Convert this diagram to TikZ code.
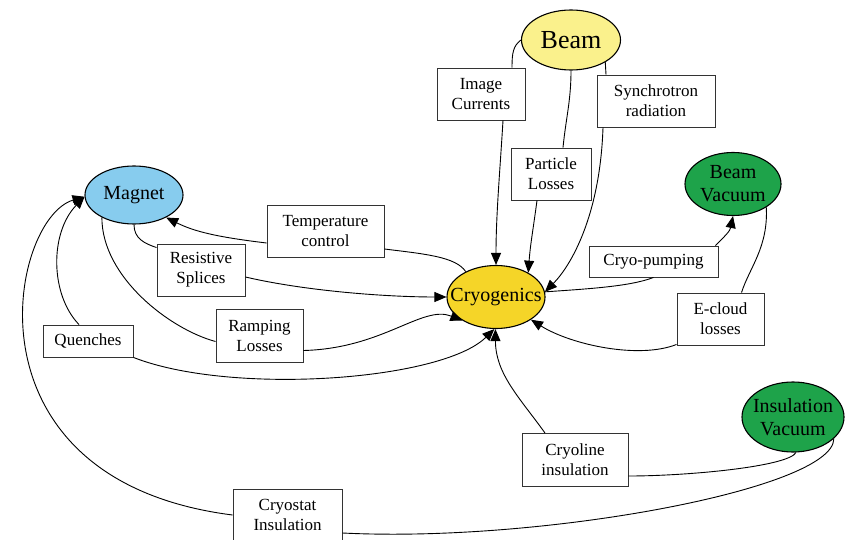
\documentclass[tikz,border=0pt]{standalone}
\usepackage{fontspec}
\setmainfont{Liberation Serif}
\usepackage{tikz}
\usetikzlibrary{shapes.geometric,arrows.meta}
\definecolor{beamyellow}{RGB}{250,241,140}
\definecolor{magblue}{RGB}{135,204,238}
\definecolor{vacgreen}{RGB}{30,163,74}
\definecolor{cryogold}{RGB}{245,213,40}
\newcommand{\ctr}[1]{\makebox[0pt]{#1}}

\begin{document}
\begin{tikzpicture}
	[x=1pt,y=-1pt,every node/.style={inner sep=0pt}]
	\tikzstyle{ell} = [ellipse, draw=black, line width=1.1pt, align=center, font=\fontsize{20}{23}\selectfont];
	\tikzstyle{box} = [draw=black!80, line width=0.9pt, fill=white, align=center, minimum height=52pt, font=\fontsize{17}{20}\selectfont];
	\tikzstyle{edges} = [line width=0.9pt];
	\tikzstyle{arr} = [edges, -{Triangle[length=12pt,width=10pt]}];

	\useasboundingbox (0,0) rectangle (845,540);

	\node[ell, fill=beamyellow, minimum width=99pt, minimum height=60pt, font=\fontsize{26}{30}\selectfont] (bm) at (571,40) {\ctr{Beam}};
	\node[ell, fill=magblue, minimum width=98pt, minimum height=58pt] (mg) at (134,195) {\ctr{Magnet}};
	\node[ell, fill=vacgreen, minimum width=96pt, minimum height=63pt] (bv) at (733,184) {\ctr{Beam}\\\ctr{Vacuum}};
	\node[ell, fill=cryogold, minimum width=98pt, minimum height=63pt] (cr) at (496,297) {\ctr{Cryogenics}};
	\node[ell, fill=vacgreen, minimum width=102pt, minimum height=70pt] (iv) at (793,417) {\ctr{Insulation}\\\ctr{Vacuum}};

	\node[box, minimum width=88pt] (img) at (481,94) {Image\\Currents};
	\node[box, minimum width=118pt] (syn) at (656,101) {Synchrotron\\radiation};
	\node[box, minimum width=80pt] (par) at (551,174) {Particle\\Losses};
	\node[box, minimum width=117pt] (tmp) at (325.5,231) {Temperature\\control};
	\node[box, minimum width=88pt] (res) at (201,270) {Resistive\\Splices};
	\node[box, minimum width=87pt, minimum height=53pt] (ramp) at (259.5,335.5) {Ramping\\Losses};
	\node[box, minimum width=90pt, minimum height=32pt] (qu) at (88,341) {Quenches};
	\node[box, minimum width=129pt, minimum height=31pt] (pump) at (653.5,261.5) {Cryo-pumping};
	\node[box, minimum width=87pt] (ecl) at (720.5,319) {E-cloud\\losses};
	\node[box, minimum width=106pt, minimum height=53pt] (cline) at (575,460) {Cryoline\\insulation};
	\node[box, minimum width=109pt] (cstat) at (287.5,515) {Cryostat\\Insulation};

	% beam
	\draw[edges] (bm.180) .. controls +(-8,6) and +(0,-14) .. ([xshift=31pt]img.north);
	\draw[arr] ([xshift=22pt]img.south) .. controls +(-3,50) and +(0,-50) .. (cr.90);
	\draw[edges] (bm.270) .. controls +(0,30) and +(3,-30) .. ([xshift=12pt]par.north);
	\draw[arr] ([xshift=-14pt]par.south) .. controls +(-4,30) and +(2,-28) .. (cr.37);
	\draw[edges] (bm.-33) -- ([xshift=-50pt]syn.north);
	\draw[arr] ([xshift=-53pt]syn.south) .. controls +(-3,90) and +(25,-25) .. (cr.6);

	% magnet
	\draw[edges] (cr.140) .. controls +(-10,-15) and +(40,5) .. ([yshift=-18pt]tmp.east);
	\draw[arr] ([yshift=-12pt]tmp.west) .. controls +(-50,-6) and +(28,14) .. (mg.-35);
	\draw[edges] (mg.270) .. controls +(0,14) and +(-12,-4) .. ([yshift=-4pt]res.north west);
	\draw[arr] ([yshift=-7pt]res.east) .. controls +(60,14) and +(-60,0) .. (cr.180);
	\draw[edges] (mg.-145) .. controls +(0,60) and +(-45,-12) .. ([yshift=-6pt]ramp.west);
	\draw[arr] ([yshift=-15pt]ramp.east) .. controls +(80,-2) and +(-40,-16) .. (cr.-145);
	\draw[arr] ([xshift=-9pt]qu.north) .. controls +(-29,-30) and +(-35,36) .. (mg.182);
	\draw[arr] (qu.south east) .. controls +(97,38) and +(-53,52) .. (cr.-93);

	% vacuum
	\draw[edges] (cr.6) .. controls +(43,-3) and +(-23,9) .. (pump.south);
	\draw[arr] ([xshift=-3pt]pump.north east) .. controls +(10,-10) and +(-3,15) .. (bv.270);
	\draw[edges] (bv.-35) .. controls +(2,40) and +(8,-25) .. ([xshift=21pt]ecl.north);
	\draw[arr] ([yshift=1pt]ecl.south west) .. controls +(-38,15) and +(40,25) .. (cr.-33);
	\draw[edges] (iv.-85) .. controls +(-8,14) and +(60,0) .. ([yshift=-16pt]cline.east);
	\draw[arr] ([xshift=-30pt]cline.north) .. controls +(-25,-35) and +(0,45) .. (cr.-91);
	\draw[edges] (iv.-28) .. controls +(0,50) and +(200,10) .. ([yshift=-18pt]cstat.east);
	\draw[arr] (cstat.west) .. controls +(-275,-35) and +(-75,22) .. (mg.182);
\end{tikzpicture}
\end{document}
